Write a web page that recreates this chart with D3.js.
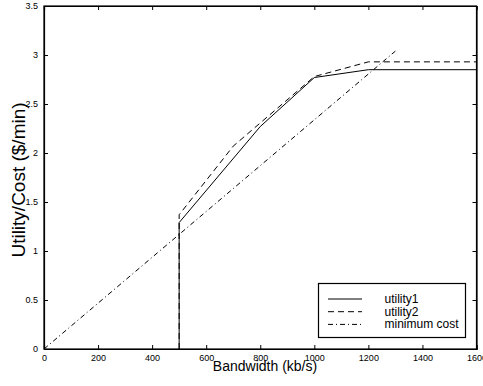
<!DOCTYPE html>
<html><head><meta charset="utf-8">
<script src="https://cdn.jsdelivr.net/npm/d3@7"></script>
<style>body{margin:0;background:#fff}svg{display:block}text{font-family:"Liberation Sans",Arial,Helvetica,sans-serif;fill:#000}</style>
</head><body>
<script>
const xTicks = [0,200,400,600,800,1000,1200,1400,1600];
const yTicks = [0,0.5,1,1.5,2,2.5,3,3.5];
const utility1X = [500,500,800,1000,1200,1600];
const utility1Y = [0,1.29,2.27,2.77,2.85,2.85];
const utility2X = [500,500,700,1000,1200,1600];
const utility2Y = [0,1.37,2.07,2.78,2.93,2.93];
const costX = [0,1300];
const costY = [0,3.04];
const seriesNames = ["utility1","utility2","minimum cost"];

const W=483,H=386;
const svg=d3.select("body").append("svg").attr("width",W).attr("height",H);
const x=d3.scaleLinear().domain([0,1600]).range([44,476.5]);
const y=d3.scaleLinear().domain([0,3.5]).range([349,6]);
const line=d3.line().x(d=>x(d[0])).y(d=>y(d[1]));

const g=svg.append("g");
g.append("rect").attr("x",x(0)).attr("y",y(3.5)).attr("width",x(1600)-x(0)).attr("height",y(0)-y(3.5)).attr("fill","none").attr("stroke","#000").attr("stroke-width",1.2);

const xa=d3.axisBottom(x).tickValues(xTicks).tickSize(-4).tickPadding(6).tickFormat(d3.format("d"));
const ga=g.append("g").attr("transform",`translate(0,${y(0)})`).call(xa);
const xt=d3.axisTop(x).tickValues(xTicks).tickSize(-4).tickFormat("");
const gt=g.append("g").attr("transform",`translate(0,${y(3.5)})`).call(xt);
const ya=d3.axisLeft(y).tickValues(yTicks).tickSize(-4).tickPadding(6).tickFormat(d=>String(d));
const gy=g.append("g").attr("transform",`translate(${x(0)},0)`).call(ya);
const yr=d3.axisRight(y).tickValues(yTicks).tickSize(-4).tickFormat("");
const gr=g.append("g").attr("transform",`translate(${x(1600)},0)`).call(yr);
[ga,gt,gy,gr].forEach(a=>{a.select(".domain").attr("stroke","#000").attr("stroke-width",1.2);a.selectAll(".tick line").attr("stroke","#000");a.selectAll("text").attr("font-size",9).attr("font-family","Liberation Sans, Arial, sans-serif").attr("fill","#222");});

const d1=utility1X.map((v,i)=>[v,utility1Y[i]]);
const d2=utility2X.map((v,i)=>[v,utility2Y[i]]);
const d3c=costX.map((v,i)=>[v,costY[i]]);
g.append("path").attr("d",line(d2)).attr("fill","none").attr("stroke","#000").attr("stroke-width",1).attr("stroke-dasharray","6,4");
g.append("path").attr("d",line(d1)).attr("fill","none").attr("stroke","#000").attr("stroke-width",1);
g.append("path").attr("d",line(d3c)).attr("fill","none").attr("stroke","#000").attr("stroke-width",1).attr("stroke-dasharray","5,3,1,3");

svg.append("text").attr("x",265).attr("y",370.5).attr("text-anchor","middle").attr("font-size",14).text("Bandwidth (kb/s)");
svg.append("text").attr("transform","translate(25,180) rotate(-90)").attr("text-anchor","middle").attr("font-size",19).text("Utility/Cost ($/min)");

const lg=svg.append("g");
lg.append("rect").attr("x",318.5).attr("y",283.5).attr("width",147).attr("height",54).attr("fill","#fff").attr("stroke","#000").attr("stroke-width",1.2);
const dashes=[null,"6,4","5,3,1,3"];
seriesNames.forEach((n,i)=>{
  const yy=299+i*12.7;
  lg.append("line").attr("x1",328).attr("x2",362).attr("y1",yy).attr("y2",yy).attr("stroke","#000").attr("stroke-width",1).attr("stroke-dasharray",dashes[i]);
  lg.append("text").attr("x",384.5).attr("y",yy+4).attr("font-size",12).text(n);
});
</script>
</body></html>
